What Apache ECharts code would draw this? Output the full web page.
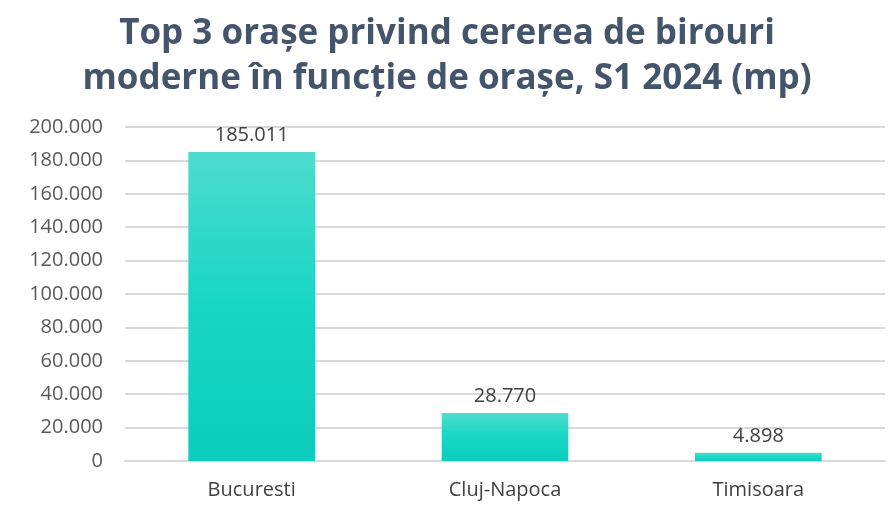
<!DOCTYPE html>
<html>
<head>
<meta charset="utf-8">
<script src="https://cdn.jsdelivr.net/npm/echarts@6/dist/echarts.min.js"></script>
<style>html,body{margin:0;padding:0;background:#fff}#c{width:894px;height:512px}</style>
</head>
<body>
<div id="c"></div>
<script>
const titleLines = ["Top 3 orașe privind cererea de birouri", "moderne în funcție de orașe, S1 2024 (mp)"];
const categories = ["Bucuresti", "Cluj-Napoca", "Timisoara"];
const values = [185011, 28770, 4898];
const yMin = 0, yMax = 200000, yStep = 20000;

function fmt(v) {
  return String(Math.round(v)).replace(/\B(?=(\d{3})+(?!\d))/g, ".");
}

const chart = echarts.init(document.getElementById('c'), null, {renderer: 'canvas'});
chart.setOption({
  backgroundColor: '#fff',
  animation: false,
  title: {
    text: titleLines.join('\n'),
    left: 'center',
    top: 7,
    textStyle: {
      fontFamily: 'Open Sans',
      fontWeight: 'bold',
      fontSize: 35,
      lineHeight: 45,
      color: '#44546a'
    }
  },
  grid: {left: 125, right: 9, top: 127, bottom: 51},
  xAxis: {
    type: 'category',
    data: categories,
    axisTick: {show: false},
    axisLine: {show: true, lineStyle: {color: '#d9d9d9', width: 2}},
    axisLabel: {color: '#404040', fontSize: 20, fontFamily: 'Open Sans', margin: 19}
  },
  yAxis: {
    type: 'value',
    min: yMin, max: yMax, interval: yStep,
    axisLine: {show: false},
    axisTick: {show: false},
    splitLine: {lineStyle: {color: '#d9d9d9', width: 2}},
    axisLabel: {color: '#595959', fontSize: 20, fontFamily: 'Open Sans', margin: 22, formatter: fmt}
  },
  series: [{
    type: 'bar',
    data: values,
    barWidth: '50%',
    itemStyle: {
      color: new echarts.graphic.LinearGradient(0, 0, 0, 1, [
        {offset: 0, color: '#4ddccd'},
        {offset: 0.5, color: '#17d6c6'},
        {offset: 1, color: '#0ccdbd'}
      ])
    },
    label: {
      show: true,
      position: 'top',
      distance: 7,
      color: '#404040',
      fontSize: 20,
      fontFamily: 'Open Sans',
      formatter: p => fmt(p.value)
    }
  }]
});
</script>
</body>
</html>
